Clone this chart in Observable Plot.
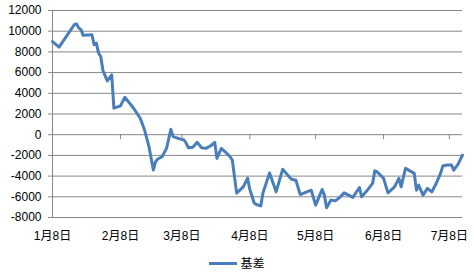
<!DOCTYPE html>
<html>
<head>
<meta charset="utf-8">
<script src="https://cdn.jsdelivr.net/npm/d3@7"></script>
<script src="https://cdn.jsdelivr.net/npm/@observablehq/plot@0.6"></script>
<style>
  html, body { margin: 0; padding: 0; background: #fff; }
  #chart { width: 474px; height: 272px; overflow: hidden; font-family: "Liberation Sans", "Noto Sans CJK SC", sans-serif; }
  #legend { height: 27px; display: flex; align-items: center; justify-content: center; padding-left: 0px; box-sizing: border-box; padding-top: 9px; }
  #legend .swatch { width: 28px; height: 3px; background: #4a7ebb; margin-right: 3px; }
  #legend .label { font-size: 12px; font-family: "Noto Sans CJK SC", sans-serif; color: #000; line-height: 12px; }
</style>
</head>
<body>
<div id="chart"></div>
<script>
const seriesName = "基差";
const dates = [
  "2015-01-08","2015-01-11","2015-01-18","2015-01-19","2015-01-20","2015-01-21","2015-01-22","2015-01-26",
  "2015-01-27","2015-01-28","2015-01-29","2015-01-30","2015-01-31","2015-02-02","2015-02-04","2015-02-05",
  "2015-02-08","2015-02-10","2015-02-14","2015-02-17","2015-02-19","2015-02-21","2015-02-23","2015-02-24",
  "2015-02-25","2015-02-27","2015-03-01","2015-03-03","2015-03-04","2015-03-07","2015-03-09","2015-03-10",
  "2015-03-11","2015-03-13","2015-03-15","2015-03-17","2015-03-19","2015-03-21","2015-03-23","2015-03-24",
  "2015-03-26","2015-03-28","2015-03-30","2015-03-31","2015-04-02","2015-04-05","2015-04-07","2015-04-08",
  "2015-04-10","2015-04-11","2015-04-13","2015-04-14","2015-04-17","2015-04-20","2015-04-23","2015-04-25",
  "2015-04-27","2015-04-29","2015-05-01","2015-05-04","2015-05-06","2015-05-08","2015-05-11","2015-05-12",
  "2015-05-13","2015-05-15","2015-05-17","2015-05-19","2015-05-21","2015-05-23","2015-05-25","2015-05-28",
  "2015-05-29","2015-05-31","2015-06-03","2015-06-04","2015-06-05","2015-06-08","2015-06-10","2015-06-13",
  "2015-06-15","2015-06-16","2015-06-18","2015-06-20","2015-06-22","2015-06-23","2015-06-24","2015-06-26",
  "2015-06-28","2015-06-30","2015-07-02","2015-07-04","2015-07-05","2015-07-07","2015-07-09","2015-07-10",
  "2015-07-12","2015-07-14"
];
const values = [
  9000, 8460, 10650, 10700, 10300, 10150, 9600, 9650,
  8690, 8850, 7900, 7550, 6200, 5200, 5780, 2560,
  2780, 3620, 2560, 1590, 450, -1160, -3420, -2610,
  -2350, -2130, -1320, 520, -190, -400, -510, -830,
  -1260, -1220, -740, -1260, -1320, -1090, -740, -2290,
  -1320, -1700, -2130, -2450, -5650, -5040, -4200, -5300,
  -6600, -6740, -6880, -5600, -3700, -5520, -3330, -3850,
  -4300, -4400, -5780, -5520, -5360, -6810, -5290, -5840,
  -7050, -6320, -6390, -6060, -5620, -5840, -6060, -5100,
  -6000, -5520, -4710, -3490, -3580, -4220, -5620, -5040,
  -4220, -5040, -3250, -3490, -3740, -5360, -4870, -5840,
  -5190, -5520, -4710, -3740, -3030, -2930, -2930, -3420,
  -2840, -1970
];
const xTickDates = ["2015-01-08","2015-02-08","2015-03-08","2015-04-08","2015-05-08","2015-06-08","2015-07-08"];
const xTickLabels = ["1月8日","2月8日","3月8日","4月8日","5月8日","6月8日","7月8日"];
const yTicks = [-8000, -6000, -4000, -2000, 0, 2000, 4000, 6000, 8000, 10000, 12000];
const xDomain = ["2015-01-08", "2015-07-14"];

const parse = d3.utcParse("%Y-%m-%d");
const data = dates.map((d, i) => ({date: parse(d), value: values[i]}));
const tickDates = xTickDates.map(parse);
const labelOf = new Map(tickDates.map((d, i) => [+d, xTickLabels[i]]));
const gray = "#868686";

const chart = Plot.plot({
  width: 474,
  height: 245,
  marginLeft: 52,
  marginRight: 12,
  marginTop: 10,
  marginBottom: 28,
  style: {fontFamily: "'Liberation Sans', 'Noto Sans CJK SC', sans-serif", fontSize: "12px", color: "#000", background: "#fff"},
  x: {type: "utc", domain: xDomain.map(parse)},
  y: {domain: [-8000, 12000]},
  marks: [
    Plot.gridY(yTicks, {stroke: gray, strokeOpacity: 1, strokeWidth: 1}),
    Plot.ruleX([parse(xDomain[0])], {stroke: gray, strokeWidth: 1}),
    Plot.axisY(yTicks, {tickSize: 4, tickPadding: 7, stroke: gray, fill: "#000", fontSize: 12, label: null, tickFormat: d => String(d)}),
    Plot.ruleX(tickDates, {y1: 0, y2: -480, stroke: gray, strokeWidth: 1}),
    Plot.axisX(tickDates, {tickSize: 0, tickPadding: 14, fill: "#000", fontSize: 12, label: null, tickFormat: d => labelOf.get(+d)}),
    Plot.lineY(data, {x: "date", y: "value", stroke: "#4a7ebb", strokeWidth: 3, strokeLinejoin: "round", strokeLinecap: "round"})
  ]
});

const root = document.getElementById("chart");
root.appendChild(chart);
const legend = document.createElement("div");
legend.id = "legend";
legend.innerHTML = `<span class="swatch"></span><span class="label">${seriesName}</span>`;
root.appendChild(legend);
</script>
</body>
</html>
